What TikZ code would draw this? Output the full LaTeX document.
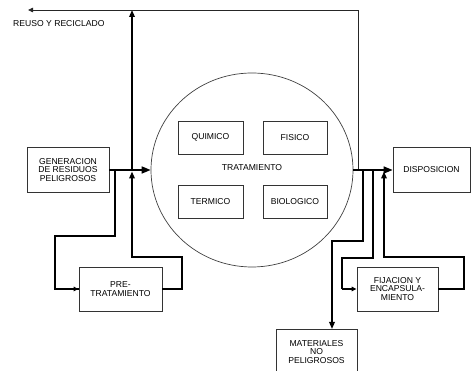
\documentclass[tikz,border=0pt]{standalone}
\usepackage{fontspec}
\setmainfont{Liberation Sans}
\usetikzlibrary{arrows.meta,shapes.geometric}
\begin{document}
\begin{tikzpicture}[x=1pt,y=-1pt,
  box/.style={draw=black!80,line width=0.8pt,rectangle,align=center,inner sep=0pt,font=\fontsize{8.6}{8.4}\selectfont},
  conn/.style={draw=black,line width=1.6pt},
  thin/.style={draw=black!85,line width=0.8pt},
  bigtip/.style={-{Triangle[length=9pt,width=7pt]}},
  midtip/.style={-{Triangle[length=7pt,width=5.5pt]}},
  smalltip/.style={-{Triangle[length=5pt,width=4.5pt]}},
  lbl/.style={font=\fontsize{8.6}{8.4}\selectfont,inner sep=0pt}]
\useasboundingbox (0,0) rectangle (472,371);
% boxes
\node[box,minimum width=82pt,minimum height=45pt] (gen) at (68,170) {GENERACION\\DE RESIDUOS\\PELIGROSOS};
\node[box,minimum width=83pt,minimum height=44pt] (pre) at (120.5,289) {PRE-\\TRATAMIENTO};
\node[draw=black!75,line width=0.7pt,ellipse,minimum width=202pt,minimum height=194pt,inner sep=0pt] (trat) at (252,170) {};
\node[lbl] (tratl) at (252,168) {TRATAMIENTO};
\node[box,minimum width=65pt,minimum height=33pt] (qui) at (210.5,137.5) {QUIMICO};
\node[box,minimum width=64pt,minimum height=33pt] (fis) at (295,137.5) {FISICO};
\node[box,minimum width=65pt,minimum height=33pt] (ter) at (210.5,201.5) {TERMICO};
\node[box,minimum width=64pt,minimum height=33pt] (bio) at (295,201.5) {BIOLOGICO};
\node[box,minimum width=77pt,minimum height=45pt] (disp) at (431.5,170) {DISPOSICION};
\node[box,minimum width=81pt,minimum height=44pt] (fij) at (397.5,289) {FIJACION Y\\ENCAPSULA-\\MIENTO};
\node[box,minimum width=81pt,minimum height=46pt] (mat) at (316.5,352) {MATERIALES\\NO\\PELIGROSOS};
\node[lbl,anchor=west] (reuso) at (13,24) {REUSO Y RECICLADO};
% coordinates
\coordinate (j1) at (132,170);
\coordinate (j2) at (115,170);
\coordinate (top1) at (132,10);
\coordinate (topl) at (28,10);
\coordinate (k0) at (358,170);
\coordinate (k1) at (363,170);
\coordinate (k2) at (373,170);
\coordinate (k3) at (384,171.5);
\coordinate (prein) at (132,171.5);
\coordinate (matin) at (332,329);
% connectors
\draw[conn,bigtip] (gen.east) -- (trat.west);
\draw[conn,midtip] (j1) -- (top1);
\draw[thin,smalltip] (k0) -- (358,10) -- (topl);
\draw[conn] (j2) -- (115,236) -- (55,236) |- (pre.west);
\draw[conn,smalltip] (55,289) -- (pre.west);
\draw[conn,midtip] (pre.east) -| (182,257) -| (prein);
\draw[conn,bigtip] (trat.east) -- (disp.west);
\draw[conn,midtip] (k1) -- (363,241) -| (matin);
\draw[conn] (k2) -- (373,258) -| (342,289);
\draw[conn,smalltip] (342,289) -- (fij.west);
\draw[conn,midtip] (fij.east) -| (464,257) -| (k3);
\end{tikzpicture}
\end{document}
